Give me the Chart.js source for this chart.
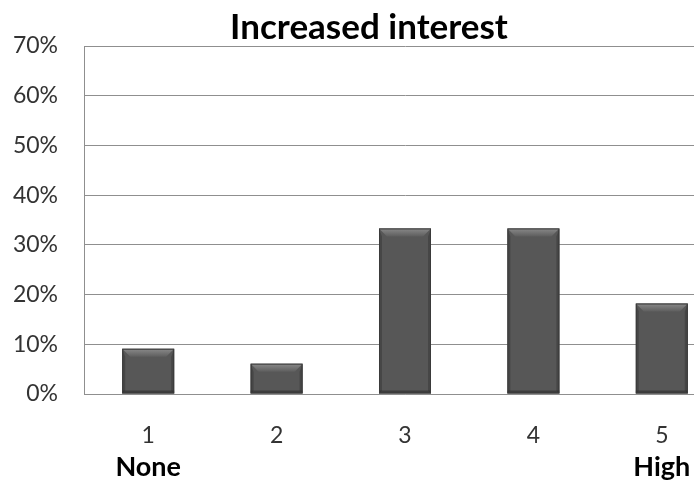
<!DOCTYPE html>
<html>
<head>
<meta charset="utf-8">
<script src="https://cdn.jsdelivr.net/npm/chart.js@4"></script>
<style>
  html, body { margin: 0; padding: 0; background: #fff; overflow: hidden; }
  #wrap { width: 694px; height: 484px; overflow: hidden; }
  #box { width: 740px; height: 484px; }
</style>
</head>
<body>
<div id="wrap"><div id="box"><canvas id="c"></canvas></div></div>
<script>
// Survey responses, share of respondents per rating
const categories = ['1', '2', '3', '4', '5'];
const endLabels = ['None', '', '', '', 'High'];
const shares = [9.1, 6.1, 33.3, 33.3, 18.2];
const yTicks = [0, 10, 20, 30, 40, 50, 60, 70];

const FONT = 'Lato, "Open Sans", sans-serif';
const GRID = '#8f8f8f';

// Bevelled look for the bars: lighter top edge, darker sides
const bevelPlugin = {
  id: 'bevel',
  afterDatasetsDraw(chart) {
    const ctx = chart.ctx;
    chart.getDatasetMeta(0).data.forEach(bar => {
      const { x, y, base, width } = bar.getProps(['x', 'y', 'base', 'width'], true);
      const l = x - width / 2, r = x + width / 2, h = base - y;
      const b = Math.min(8, h / 2);
      ctx.save();
      // top bevel
      let g = ctx.createLinearGradient(0, y, 0, y + b);
      g.addColorStop(0, '#8a8a8a');
      g.addColorStop(1, '#5e5e5e');
      ctx.fillStyle = g;
      ctx.beginPath();
      ctx.moveTo(l, y); ctx.lineTo(r, y); ctx.lineTo(r - b, y + b); ctx.lineTo(l + b, y + b); ctx.closePath();
      ctx.fill();
      // left and right sides
      ctx.fillStyle = 'rgba(40,40,40,0.35)';
      ctx.beginPath();
      ctx.moveTo(l, y); ctx.lineTo(l + 3, y + b); ctx.lineTo(l + 3, base - 3); ctx.lineTo(l, base); ctx.closePath();
      ctx.fill();
      ctx.beginPath();
      ctx.moveTo(r, y); ctx.lineTo(r - 3, y + b); ctx.lineTo(r - 3, base - 3); ctx.lineTo(r, base); ctx.closePath();
      ctx.fill();
      // bottom edge
      ctx.fillStyle = 'rgba(30,30,30,0.45)';
      ctx.fillRect(l, base - 3, width, 3);
      ctx.strokeStyle = '#3a3a3a';
      ctx.lineWidth = 1;
      ctx.strokeRect(l + 0.5, y + 0.5, width - 1, h - 1);
      ctx.restore();
    });
  }
};

new Chart(document.getElementById('c'), {
  type: 'bar',
  data: {
    labels: categories,
    datasets: [{
      data: shares,
      backgroundColor: '#575757',
      borderWidth: 0,
      categoryPercentage: 1,
      barPercentage: 0.405,
      xAxisID: 'x'
    }]
  },
  options: {
    responsive: true,
    maintainAspectRatio: false,
    animation: false,
    layout: { padding: { left: 12, right: 14, top: 0, bottom: 0 } },
    plugins: {
      legend: { display: false },
      tooltip: { enabled: false },
      title: {
        display: true,
        text: 'Increased interest',
        color: '#000',
        font: { family: FONT, size: 35, weight: 'bold' },
        padding: { top: 7, bottom: -3 }
      }
    },
    scales: {
      y: {
        min: 0,
        max: 70,
        afterBuildTicks(scale) { scale.ticks = yTicks.map(v => ({ value: v })); },
        afterFit(scale) { scale.width = 72; },
        ticks: {
          callback: v => v + '%',
          color: '#333',
          font: { family: FONT, size: 23 },
          padding: 26
        },
        grid: { color: GRID, drawTicks: false },
        border: { display: true, color: GRID }
      },
      x: {
        type: 'category',
        offset: true,
        afterFit(scale) { scale.height = 57; },
        grid: { display: false, drawTicks: false },
        border: { display: true, color: GRID },
        ticks: {
          color: '#333',
          font: { family: FONT, size: 23 },
          padding: 28
        }
      },
      x2: {
        type: 'category',
        labels: endLabels,
        offset: true,
        position: 'bottom',
        afterFit(scale) { scale.height = 33; },
        grid: { display: false, drawTicks: false },
        border: { display: false },
        ticks: {
          color: '#000',
          font: { family: FONT, size: 27, weight: 'bold' },
          padding: 0,
          autoSkip: false,
          maxRotation: 0
        }
      }
    }
  },
  plugins: [bevelPlugin]
});
</script>
</body>
</html>
